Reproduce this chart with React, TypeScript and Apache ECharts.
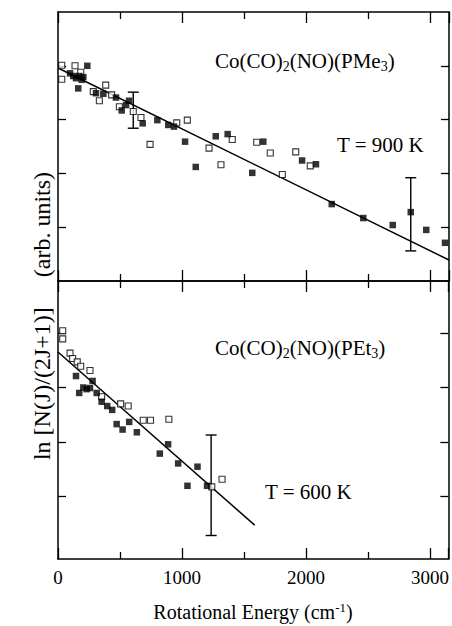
import React, { useEffect, useRef } from "react";
import * as echarts from "echarts";

// ---- Data (x: rotational energy cm^-1, y: ln[N(J)/(2J+1)] arb. units) ----
const pme3Open: number[][] = [
  [30, 4.01], [30, 3.75], [137, 4.0], [183, 3.88], [384, 3.64], [284, 3.52],
  [333, 3.35], [432, 3.46], [494, 3.24], [606, 3.15], [668, 3.04], [956, 2.94],
  [1041, 2.99], [741, 2.54], [1216, 2.47], [1403, 2.63], [1312, 2.16],
  [1600, 2.58], [1709, 2.38], [1806, 1.98], [1914, 2.4], [2031, 2.14],
];
const pme3Filled: number[][] = [
  [236, 4.0], [97, 3.86], [123, 3.81], [145, 3.77], [171, 3.81], [191, 3.74],
  [204, 3.79], [163, 3.58], [306, 3.49], [365, 3.48], [467, 3.41], [513, 3.17],
  [548, 3.27], [572, 3.35], [682, 2.93], [800, 2.99], [888, 2.9], [934, 2.87],
  [1023, 2.59], [1270, 2.69], [1366, 2.73], [1109, 2.12], [1564, 2.01],
  [1653, 2.59], [1965, 2.24], [2077, 2.17], [2204, 1.43], [2458, 1.17],
  [2695, 1.04], [2840, 1.28], [2965, 0.95], [3116, 0.71],
];
const pme3Fit: number[][] = [[0, 3.96], [3148, 0.39]];
const pme3ErrorBars: number[][] = [[606, 2.84, 3.51], [2840, 0.56, 1.92]];

const pet3Open: number[][] = [
  [38, 3.04], [38, 2.89], [97, 2.63], [118, 2.53], [155, 2.47], [183, 2.39],
  [258, 2.31], [352, 1.83], [505, 1.7], [566, 1.66], [687, 1.4], [746, 1.4],
  [894, 1.42], [1240, 0.18], [1323, 0.32],
];
const pet3Filled: number[][] = [
  [145, 2.21], [171, 1.9], [204, 2.0], [231, 1.97], [258, 1.99], [279, 2.12],
  [312, 1.9], [352, 1.74], [397, 1.66], [437, 1.59], [473, 1.33], [574, 1.37],
  [521, 1.23], [636, 1.18], [821, 0.79], [888, 0.96], [969, 0.61],
  [1125, 0.55], [1044, 0.2], [1202, 0.2],
];
const pet3Fit: number[][] = [[0, 2.65], [1586, -0.52]];
const pet3ErrorBars: number[][] = [[1235, -0.71, 1.13]];

const topTitle = "{a|Co(CO)}{s|2}{a|(NO)(PMe}{s|3}{a|)}";
const bottomTitle = "{a|Co(CO)}{s|2}{a|(NO)(PEt}{s|3}{a|)}";
const topTemp = "T = 900 K";
const bottomTemp = "T = 600 K";
const xTitle = "{a|Rotational Energy (cm}{p|-1}{a|)}";
const yTitle = "ln [N(J)/(2J+1)]     (arb. units)";

const FONT = "'Liberation Serif', 'Times New Roman', serif";
const BLACK = "#000";

function xAxisCfg(gridIndex: number, position: "top" | "bottom", labels: boolean) {
  return {
    type: "value",
    gridIndex,
    position,
    min: 0,
    max: 3148,
    interval: 1000,
    axisLine: { show: true, onZero: false, lineStyle: { color: BLACK, width: 1.5 } },
    axisTick: { show: true, inside: true, length: 11, lineStyle: { color: BLACK, width: 1.3 } },
    minorTick: { show: true, splitNumber: 2, length: 7, lineStyle: { color: BLACK, width: 1.3 } },
    splitLine: { show: false },
    minorSplitLine: { show: false },
    axisLabel: {
      show: labels,
      color: BLACK,
      fontFamily: FONT,
      fontSize: 19,
      margin: 9,
      formatter: (v: number) => (v % 1000 === 0 ? String(v) : ""),
    },
  };
}

function yAxisCfg(gridIndex: number, position: "left" | "right", min: number, max: number, ticks: number[]) {
  return {
    type: "value",
    gridIndex,
    position,
    min,
    max,
    axisLine: { show: true, onZero: false, lineStyle: { color: BLACK, width: 1.5 } },
    axisTick: { show: true, inside: true, length: 8, customValues: ticks, lineStyle: { color: BLACK, width: 1.3 } },
    splitLine: { show: false },
    axisLabel: { show: false },
  };
}

function errorBarSeries(data: number[][], xi: number, yi: number) {
  return {
    type: "custom",
    xAxisIndex: xi,
    yAxisIndex: yi,
    data,
    encode: { x: 0, y: [1, 2] },
    z: 3,
    renderItem: (_params: any, api: any) => {
      const x = api.value(0);
      const lo = api.coord([x, api.value(1)]);
      const hi = api.coord([x, api.value(2)]);
      const w = 5.5;
      const st = { stroke: BLACK, lineWidth: 1.4 };
      return {
        type: "group",
        children: [
          { type: "line", shape: { x1: lo[0], y1: lo[1], x2: hi[0], y2: hi[1] }, style: st },
          { type: "line", shape: { x1: lo[0] - w, y1: lo[1], x2: lo[0] + w, y2: lo[1] }, style: st },
          { type: "line", shape: { x1: hi[0] - w, y1: hi[1], x2: hi[0] + w, y2: hi[1] }, style: st },
        ],
      };
    },
  };
}

function openSeries(data: number[][], xi: number, yi: number) {
  return {
    type: "scatter",
    xAxisIndex: xi,
    yAxisIndex: yi,
    data,
    symbol: "rect",
    symbolSize: 6,
    z: 4,
    itemStyle: { color: "#fff", borderColor: BLACK, borderWidth: 1.1 },
  };
}

function filledSeries(data: number[][], xi: number, yi: number) {
  return {
    type: "scatter",
    xAxisIndex: xi,
    yAxisIndex: yi,
    data,
    symbol: "rect",
    symbolSize: 6.5,
    z: 5,
    itemStyle: { color: BLACK },
  };
}

function fitSeries(data: number[][], xi: number, yi: number) {
  return {
    type: "line",
    xAxisIndex: xi,
    yAxisIndex: yi,
    data,
    showSymbol: false,
    symbol: "none",
    z: 2,
    lineStyle: { color: BLACK, width: 1.5 },
  };
}

const richMain = {
  a: { fontFamily: FONT, fontSize: 21, color: BLACK },
  s: { fontFamily: FONT, fontSize: 14, color: BLACK, padding: [12, 0, 0, 0] },
};

export default function App() {
  const ref = useRef<HTMLDivElement>(null);

  useEffect(() => {
    if (!ref.current) return;
    const chart = echarts.init(ref.current, undefined, { renderer: "svg" });
    chart.setOption({
      animation: false,
      backgroundColor: "#fff",
      grid: [
        { left: 58, top: 12, width: 391, height: 269 },
        { left: 58, top: 281, width: 391, height: 278 },
      ],
      xAxis: [
        xAxisCfg(0, "bottom", false),
        xAxisCfg(0, "top", false),
        xAxisCfg(1, "bottom", true),
        xAxisCfg(1, "top", false),
      ],
      yAxis: [
        yAxisCfg(0, "left", 0, 5, [1, 2, 3, 4]),
        yAxisCfg(0, "right", 0, 5, [1, 2, 3, 4]),
        yAxisCfg(1, "left", -1.14, 3.95, [0, 1, 2, 3]),
        yAxisCfg(1, "right", -1.14, 3.95, [0, 1, 2, 3]),
      ],
      series: [
        fitSeries(pme3Fit, 0, 0),
        errorBarSeries(pme3ErrorBars, 0, 0),
        openSeries(pme3Open, 0, 0),
        filledSeries(pme3Filled, 0, 0),
        fitSeries(pet3Fit, 2, 2),
        errorBarSeries(pet3ErrorBars, 2, 2),
        openSeries(pet3Open, 2, 2),
        filledSeries(pet3Filled, 2, 2),
      ],
      graphic: [
        {
          type: "text",
          left: 215,
          top: 50,
          style: { text: topTitle, rich: richMain },
        },
        {
          type: "text",
          left: 337,
          top: 134,
          style: { text: topTemp, fontFamily: FONT, fontSize: 21, fill: BLACK },
        },
        {
          type: "text",
          left: 215,
          top: 337,
          style: { text: bottomTitle, rich: richMain },
        },
        {
          type: "text",
          left: 265,
          top: 481,
          style: { text: bottomTemp, fontFamily: FONT, fontSize: 21, fill: BLACK },
        },
        {
          type: "text",
          x: 253,
          y: 612,
          style: {
            text: xTitle,
            align: "center",
            verticalAlign: "middle",
            rich: {
              a: { fontFamily: FONT, fontSize: 20, color: BLACK },
              p: { fontFamily: FONT, fontSize: 13, color: BLACK, padding: [0, 0, 10, 0] },
            },
          },
        },
        {
          type: "text",
          x: 42,
          y: 316,
          rotation: Math.PI / 2,
          style: {
            text: yTitle,
            align: "center",
            verticalAlign: "middle",
            fontFamily: FONT,
            fontSize: 24,
            fill: BLACK,
          },
        },
      ],
    });
    return () => chart.dispose();
  }, []);

  return (
    <div
      ref={ref}
      style={{ position: "fixed", left: 0, top: 0, width: 452, height: 626, background: "#fff" }}
    />
  );
}
